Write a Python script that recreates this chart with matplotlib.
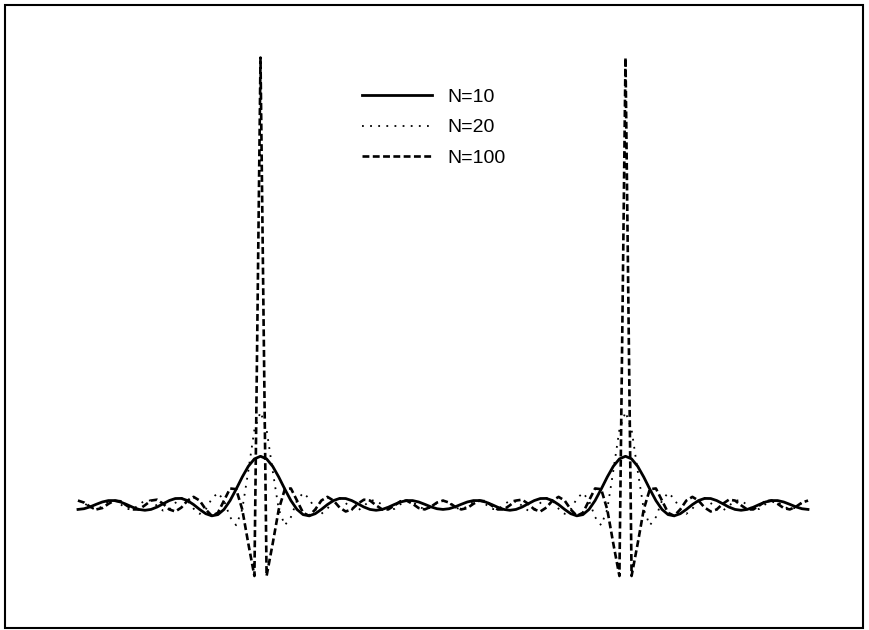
import numpy as np
import matplotlib
matplotlib.use("Agg")
import matplotlib.pyplot as plt
from matplotlib.patches import Rectangle

# Data: Dirichlet kernels for several N, sampled on a coarse grid over [-pi, 3pi]
N_values = [10, 20, 100]
labels = ["N=10", "N=20", "N=100"]
n_samples = 121
x_start, x_end = -np.pi, 3 * np.pi

x = np.linspace(x_start, x_end, n_samples)

def kernel(N, x):
    s = np.sin(x / 2.0)
    out = np.empty_like(x)
    small = np.abs(s) < 1e-12
    out[~small] = np.sin((N + 1) * x[~small] / 2.0) / s[~small]
    out[small] = N + 1
    return out

W, H = 869, 630
fig = plt.figure(figsize=(W / 100, H / 100), dpi=100)
plt.rcParams['font.family'] = ['Liberation Sans', 'DejaVu Sans']

# axes placement (pixels)
x0_px, x1_px = 78, 808
y_base = 505
scale = 4.43  # px per unit
ylo, yhi = -20, 105
bot_px = y_base - ylo * scale
top_px = y_base - yhi * scale
ax = fig.add_axes([x0_px / W, (H - bot_px) / H, (x1_px - x0_px) / W, (bot_px - top_px) / H])
ax.set_xlim(x_start, x_end)
ax.set_ylim(ylo, yhi)
ax.axis('off')

styles = [
    dict(color='black', lw=2.0, linestyle='-'),
    dict(color='black', lw=1.3, linestyle=(0, (1.0, 3.5))),
    dict(color='black', lw=1.9, linestyle=(0, (2.6, 1.3))),
]
handles = []
for N, lab, st in zip(N_values, labels, styles):
    h, = ax.plot(x, kernel(N, x), label=lab, clip_on=False, **st)
    handles.append(h)

fig.legend(handles=handles, labels=labels, loc='upper left',
           bbox_to_anchor=(362 / W, 1 - 88 / H), frameon=False,
           fontsize=14, handlelength=3.6, handletextpad=0.77,
           labelspacing=0.68, borderpad=0, borderaxespad=0)

# outer frame
fig.patches.append(Rectangle((5 / W, 2 / H), 858 / W, 623 / H, transform=fig.transFigure,
                             fill=False, edgecolor='black', lw=1.5))

fig.savefig("out.png", dpi=100)
